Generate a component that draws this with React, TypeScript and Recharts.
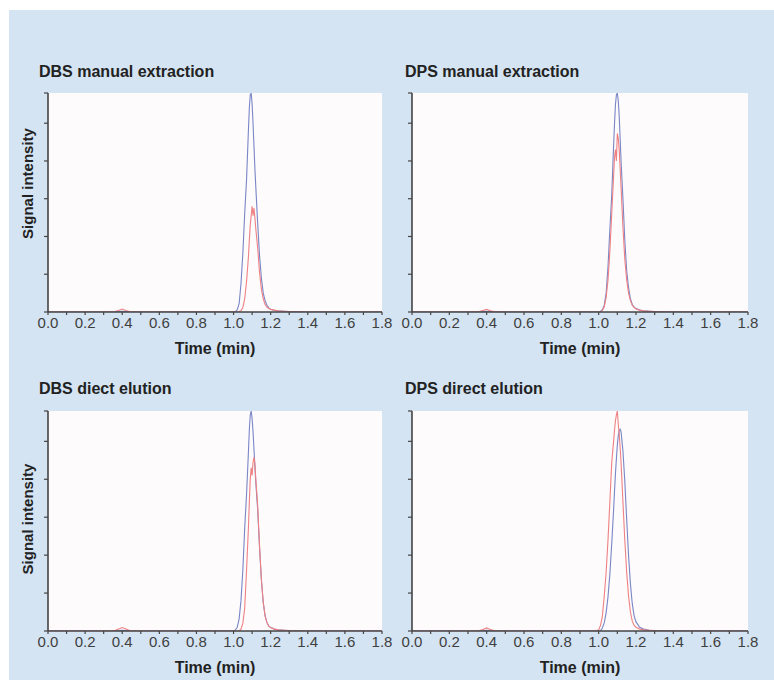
import { LineChart, Line, XAxis, YAxis, CartesianGrid } from "recharts";

const FONT = '"Liberation Sans", Arial, Helvetica, sans-serif';

// retention time (min), shared by every trace
const times = [
  0, 0.3, 0.36, 0.38, 0.4, 0.42, 0.44, 0.5, 0.98, 1.0, 1.01, 1.02, 1.03, 1.04,
  1.05, 1.06, 1.07, 1.08, 1.085, 1.09, 1.095, 1.1, 1.105, 1.11, 1.115, 1.12,
  1.13, 1.14, 1.15, 1.16, 1.17, 1.18, 1.19, 1.2, 1.22, 1.24, 1.27, 1.3, 1.4,
  1.8,
];

const xTicks = [
  0, 0.1, 0.2, 0.3, 0.4, 0.5, 0.6, 0.7, 0.8, 0.9, 1.0, 1.1, 1.2, 1.3, 1.4, 1.5,
  1.6, 1.7, 1.8,
];
const yTicks = [0, 1, 2, 3, 4, 5, 5.8];

const dbsManualBlue = [
  0, 0, 0, 0.01, 0.02, 0.01, 0, 0, 0, 0, 0.01, 0.06, 0.22, 0.75, 1.55, 2.6,
  3.5, 4.8, 5.4, 5.75, 5.8, 5.5, 5.0, 4.4, 3.8, 3.3, 2.35, 1.5, 0.9, 0.5, 0.3,
  0.18, 0.11, 0.07, 0.04, 0.03, 0.02, 0.01, 0, 0,
];
const dbsManualRed = [
  0, 0, 0.01, 0.04, 0.08, 0.04, 0.01, 0, 0, 0, 0, 0, 0.01, 0.03, 0.12, 0.35,
  0.8, 1.45, 1.9, 2.3, 2.55, 2.8, 2.55, 2.75, 2.5, 2.2, 1.7, 1.05, 0.6, 0.35,
  0.2, 0.13, 0.09, 0.07, 0.05, 0.03, 0.02, 0.01, 0, 0,
];

const dpsManualBlue = [
  0, 0, 0, 0.01, 0.02, 0.01, 0, 0, 0, 0, 0.02, 0.06, 0.18, 0.5, 1.2, 2.2, 3.1,
  4.4, 5.0, 5.5, 5.75, 5.8, 5.6, 5.2, 4.6, 4.0, 3.0, 1.9, 1.1, 0.65, 0.35, 0.2,
  0.13, 0.09, 0.05, 0.03, 0.02, 0.01, 0, 0,
];
const dpsManualRed = [
  0, 0, 0.01, 0.04, 0.07, 0.03, 0.01, 0, 0, 0, 0, 0.04, 0.14, 0.38, 0.85, 1.6,
  2.6, 3.6, 4.1, 4.3, 4.0, 4.73, 4.6, 4.3, 3.8, 3.3, 2.25, 1.4, 0.85, 0.5, 0.3,
  0.18, 0.12, 0.08, 0.05, 0.03, 0.02, 0.01, 0, 0,
];

const dbsDirectBlue = [
  0, 0, 0, 0.01, 0.02, 0.01, 0, 0, 0, 0, 0.03, 0.1, 0.32, 0.8, 1.6, 2.7, 3.6,
  4.7, 5.3, 5.7, 5.8, 5.6, 5.25, 4.8, 4.35, 3.9, 3.2, 2.2, 1.35, 0.75, 0.4,
  0.22, 0.13, 0.09, 0.05, 0.03, 0.02, 0.01, 0, 0,
];
const dbsDirectRed = [
  0, 0, 0.01, 0.05, 0.09, 0.05, 0.01, 0, 0, 0, 0, 0, 0, 0.05, 0.2, 0.6, 1.6,
  2.7, 3.4, 4.0, 4.3, 4.1, 4.45, 4.58, 4.4, 4.0, 3.3, 2.25, 1.35, 0.75, 0.4,
  0.22, 0.13, 0.09, 0.05, 0.03, 0.02, 0.01, 0, 0,
];

const dpsDirectBlue = [
  0, 0, 0, 0.01, 0.02, 0.01, 0, 0, 0, 0, 0.01, 0.08, 0.22, 0.48, 0.9, 1.5, 2.3,
  3.2, 3.7, 4.15, 4.55, 4.9, 5.15, 5.28, 5.32, 5.25, 4.75, 3.95, 2.95, 2.0,
  1.25, 0.72, 0.4, 0.24, 0.1, 0.05, 0.02, 0.01, 0, 0,
];
const dpsDirectRed = [
  0, 0, 0.01, 0.04, 0.08, 0.04, 0.01, 0, 0, 0.03, 0.15, 0.4, 0.93, 1.55, 2.4,
  3.4, 4.45, 5.0, 5.3, 5.55, 5.7, 5.8, 5.45, 5.2, 4.85, 4.45, 3.4, 2.4, 1.55,
  0.93, 0.5, 0.26, 0.15, 0.1, 0.05, 0.03, 0.02, 0.01, 0, 0,
];

const BLUE = "#7a86c6";
const RED = "#ef8183";
const AXIS = "#444";

function fmtTick(v: number) {
  const tenths = Math.round(v * 10);
  return tenths % 2 === 0 ? v.toFixed(1) : "";
}

// y ticks are unlabelled: draw only the short mark to the left of the axis
function YTickMark(props: any) {
  const { x, y } = props;
  return (
    <line x1={x - 4} x2={x} y1={y} y2={y} stroke={AXIS} strokeWidth={1.2} />
  );
}

type PanelProps = {
  blue: number[];
  red: number[];
  left: number;
  top: number;
  height: number;
  marginLeft: number;
  marginRight: number;
  yLabelShift?: number;
};

function Panel({
  blue,
  red,
  left,
  top,
  height,
  marginLeft,
  marginRight,
  yLabelShift,
}: PanelProps) {
  const data = times.map((t, i) => ({ t, blue: blue[i], red: red[i] }));

  const yLabel =
    yLabelShift === undefined
      ? undefined
      : {
          content: (props: any) => {
            const vb = props.viewBox || { x: marginLeft, y: 13, height: 219 };
            const x = vb.x + 25;
            const y = vb.y + vb.height / 2 + yLabelShift;
            return (
              <text
                x={x}
                y={y}
                transform={`rotate(-90, ${x}, ${y})`}
                textAnchor="middle"
                fontSize={15}
                fontWeight="bold"
                fill="#222"
                fontFamily={FONT}
              >
                Signal intensity
              </text>
            );
          },
        };

  return (
    <div style={{ position: "absolute", left, top, width: 400, height }}>
      <LineChart
        width={400}
        height={height}
        data={data}
        margin={{ top: 13, right: marginRight, bottom: 8, left: marginLeft }}
      >
        <CartesianGrid
          horizontal={false}
          vertical={false}
          fill="#fdfbfc"
          stroke="none"
        />
        <XAxis
          dataKey="t"
          type="number"
          domain={[0, 1.8]}
          ticks={xTicks}
          interval={0}
          minTickGap={0}
          tickFormatter={fmtTick}
          tickSize={3}
          tickMargin={2}
          height={50}
          axisLine={{ stroke: AXIS, strokeWidth: 1.6 }}
          tickLine={{ stroke: AXIS, strokeWidth: 1.2 }}
          tick={{ fill: "#3f3f3f", fontSize: 15, fontFamily: FONT }}
          label={{
            value: "Time (min)",
            position: "insideBottom",
            offset: 8,
            fill: "#222",
            fontSize: 16,
            fontWeight: "bold",
            fontFamily: FONT,
          }}
        />
        <YAxis
          type="number"
          domain={[0, 5.8]}
          ticks={yTicks}
          interval={0}
          minTickGap={0}
          width={40}
          allowDataOverflow
          tickSize={0}
          tickMargin={0}
          tickLine={false}
          tick={<YTickMark />}
          axisLine={{ stroke: AXIS, strokeWidth: 1.6 }}
          label={yLabel}
        />
        <Line
          dataKey="blue"
          type="linear"
          stroke={BLUE}
          strokeWidth={1.1}
          dot={false}
          isAnimationActive={false}
        />
        <Line
          dataKey="red"
          type="linear"
          stroke={RED}
          strokeWidth={1.1}
          dot={false}
          isAnimationActive={false}
        />
      </LineChart>
    </div>
  );
}

const titleStyle = {
  position: "absolute" as const,
  fontFamily: FONT,
  fontSize: 16,
  fontWeight: "bold" as const,
  lineHeight: "16px",
  color: "#222",
  whiteSpace: "nowrap" as const,
};

export default function App() {
  return (
    <div
      style={{
        position: "absolute",
        left: 0,
        top: 0,
        width: 774,
        height: 680,
        background: "#fff",
        overflow: "hidden",
      }}
    >
      <div
        style={{
          position: "absolute",
          left: 9,
          top: 10,
          right: 0,
          bottom: 0,
          background: "#d4e4f3",
        }}
      />
      <div style={{ ...titleStyle, left: 39, top: 64 }}>
        DBS manual extraction
      </div>
      <div style={{ ...titleStyle, left: 405, top: 64 }}>
        DPS manual extraction
      </div>
      <div style={{ ...titleStyle, left: 39, top: 381 }}>DBS diect elution</div>
      <div style={{ ...titleStyle, left: 405, top: 381 }}>
        DPS direct elution
      </div>

      <Panel
        blue={dbsManualBlue}
        red={dbsManualRed}
        left={0}
        top={80}
        height={290}
        marginLeft={8}
        marginRight={18}
        yLabelShift={-19}
      />
      <Panel
        blue={dpsManualBlue}
        red={dpsManualRed}
        left={370}
        top={80}
        height={290}
        marginLeft={2}
        marginRight={22}
      />
      <Panel
        blue={dbsDirectBlue}
        red={dbsDirectRed}
        left={0}
        top={398}
        height={291}
        marginLeft={8}
        marginRight={18}
        yLabelShift={-2}
      />
      <Panel
        blue={dpsDirectBlue}
        red={dpsDirectRed}
        left={370}
        top={398}
        height={291}
        marginLeft={2}
        marginRight={22}
      />
    </div>
  );
}
